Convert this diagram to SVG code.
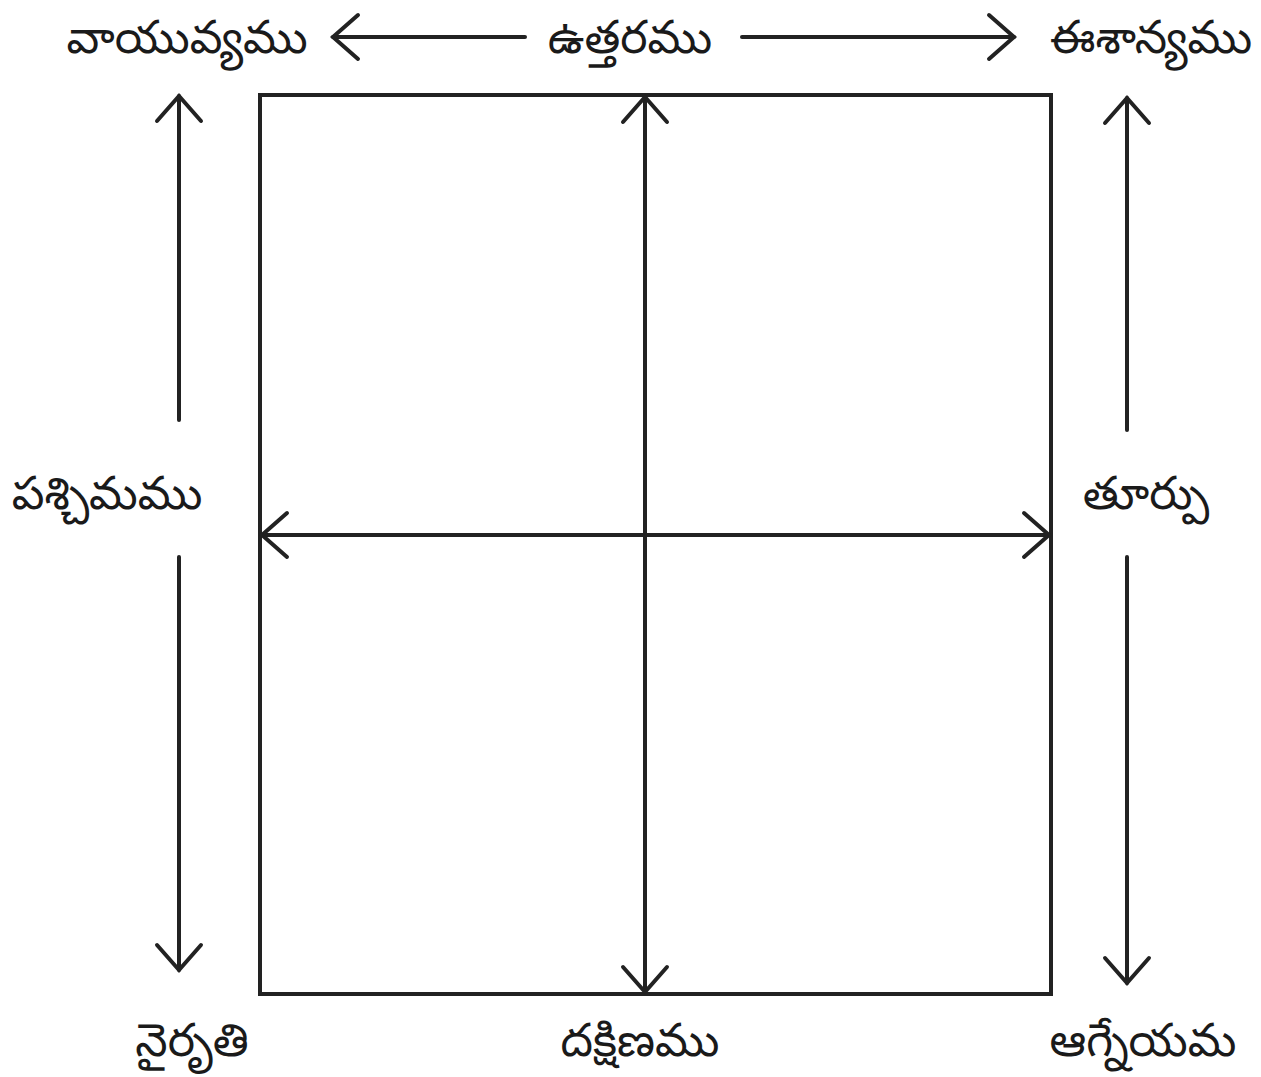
<svg xmlns="http://www.w3.org/2000/svg" width="1261" height="1077" viewBox="0 0 1261 1077">
<defs>
<style>
.ln{stroke:#222;stroke-width:4;fill:none;stroke-linecap:round}
.box{stroke:#222;stroke-width:4;fill:none}
.t{font-family:"Noto Sans Telugu","Noto Sans","DejaVu Sans",sans-serif;font-size:46px;fill:#1a1a1a}
</style>
<marker id="ah" markerUnits="userSpaceOnUse" markerWidth="60" markerHeight="60" viewBox="-30 -30 60 60" refX="0" refY="0" orient="auto-start-reverse" overflow="visible">
<path d="M-25,-22 L0,0 L-25,22" fill="none" stroke="#222" stroke-width="4" stroke-linecap="round" stroke-linejoin="miter"/>
</marker>
</defs>
<rect id="background" x="0" y="0" width="1261" height="1077" fill="#fff"/>
<g id="box"><rect class="box" x="260" y="95" width="791" height="899"/></g>
<g id="connectors">
<line class="ln" x1="645" y1="97" x2="645" y2="992" marker-start="url(#ah)" marker-end="url(#ah)"/>
<line class="ln" x1="262" y1="535" x2="1049" y2="535" marker-start="url(#ah)" marker-end="url(#ah)"/>
<line class="ln" x1="525" y1="37" x2="333" y2="37" marker-end="url(#ah)"/>
<line class="ln" x1="742" y1="37" x2="1014" y2="37" marker-end="url(#ah)"/>
<line class="ln" x1="179" y1="420" x2="179" y2="96" marker-end="url(#ah)"/>
<line class="ln" x1="179" y1="557" x2="179" y2="970" marker-end="url(#ah)"/>
<line class="ln" x1="1127" y1="430" x2="1127" y2="98" marker-end="url(#ah)"/>
<line class="ln" x1="1127" y1="557" x2="1127" y2="983" marker-end="url(#ah)"/>
</g>
<g id="n-vayavya"><text class="t" x="187" y="53" text-anchor="middle">వాయువ్యము</text></g>
<g id="n-uttara"><text class="t" x="630" y="53" text-anchor="middle">ఉత్తరము</text></g>
<g id="n-eesanya"><text class="t" x="1151" y="53" text-anchor="middle">ఈశాన్యము</text></g>
<g id="n-paschima"><text class="t" x="107" y="509" text-anchor="middle">పశ్చిమము</text></g>
<g id="n-thoorpu"><text class="t" x="1146" y="509" text-anchor="middle">తూర్పు</text></g>
<g id="n-nairuthi"><text class="t" x="192" y="1056" text-anchor="middle">నైరృతి</text></g>
<g id="n-dakshina"><text class="t" x="640" y="1056" text-anchor="middle">దక్షిణము</text></g>
<g id="n-agneya"><text class="t" x="1143" y="1056" text-anchor="middle">ఆగ్నేయమ</text></g>
</svg>
